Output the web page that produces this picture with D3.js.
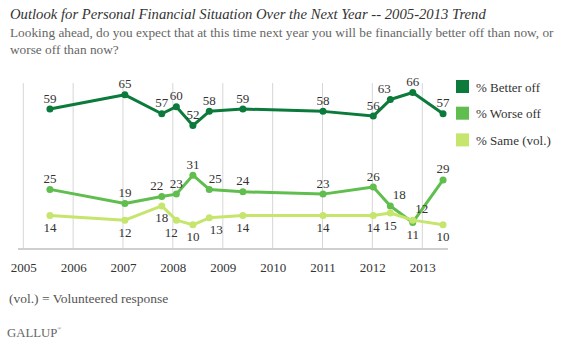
<!DOCTYPE html>
<html>
<head>
<meta charset="utf-8">
<script src="https://cdn.jsdelivr.net/npm/d3@7"></script>
<style>
        body { margin: 0; background: #fff; }
        svg text { font-family: "Liberation Serif", "DejaVu Serif", serif; }
</style>
</head>
<body>
<div id="chart"></div>
<script>
// survey dates (approximate field dates)
var dates = ["2005-07-15", "2007-01-15", "2007-10-12", "2008-01-27", "2008-05-27", "2008-09-24",
        "2009-05-28", "2011-01-05", "2012-01-08", "2012-05-12", "2012-10-23", "2013-06-02"];
var betterOff = [59, 65, 57, 60, 52, 58, 59, 58, 56, 63, 66, 57];
var worseOff = [25, 19, 22, 23, 31, 25, 24, 23, 26, 18, 11, 29];
var sameVol = [14, 12, 18, 12, 10, 13, 14, 14, 14, 15, 12, 10];
var yearTicks = [2005, 2006, 2007, 2008, 2009, 2010, 2011, 2012, 2013];
var seriesNames = ["% Better off", "% Worse off", "% Same (vol.)"];

var width = 564, height = 344;
var colors = ["#0b7a3b", "#5fbe4e", "#c6e56d"];

var parse = d3.timeParse("%Y-%m-%d");
var x = d3.scaleTime()
        .domain([new Date(2005, 0, 1), new Date(2013, 0, 1)])
        .range([23.3, 422.3]);
var y = d3.scaleLinear().domain([0, 70]).range([248.5, 83]);

var svg = d3.select("#chart").append("svg")
        .attr("width", width)
        .attr("height", height);

// title + question
svg.append("text")
        .attr("x", 10).attr("y", 19)
        .attr("font-size", "14.7px")
        .attr("font-style", "italic")
        .attr("fill", "#333")
        .text("Outlook for Personal Financial Situation Over the Next Year -- 2005-2013 Trend");
svg.append("text")
        .attr("x", 10).attr("y", 37)
        .attr("font-size", "13.3px")
        .attr("fill", "#666")
        .text("Looking ahead, do you expect that at this time next year you will be financially better off than now, or");
svg.append("text")
        .attr("x", 10).attr("y", 54)
        .attr("font-size", "13.3px")
        .attr("fill", "#666")
        .text("worse off than now?");

// gridlines
svg.append("g").selectAll("line")
        .data(yearTicks)
        .enter()
        .append("line")
        .attr("x1", function (d) { return x(new Date(d, 0, 1)); })
        .attr("x2", function (d) { return x(new Date(d, 0, 1)); })
        .attr("y1", y(70))
        .attr("y2", y(0))
        .attr("stroke", "#d6d6d6")
        .attr("stroke-width", 1);

// x axis
var xAxis = d3.axisBottom(x)
        .tickValues(yearTicks.map(function (d) { return new Date(d, 0, 1); }))
        .tickFormat(d3.timeFormat("%Y"))
        .tickSize(0)
        .tickPadding(14);
var gx = svg.append("g")
        .attr("transform", "translate(0," + y(0) + ")")
        .call(xAxis);
gx.select(".domain").remove();
gx.selectAll("text")
        .attr("font-family", "Liberation Serif, serif")
        .attr("font-size", "13px")
        .attr("fill", "#333");
svg.append("line")
        .attr("x1", 18).attr("x2", 448)
        .attr("y1", y(0) + 0.5).attr("y2", y(0) + 0.5)
        .attr("stroke", "#cfcfcf")
        .attr("stroke-width", 2);

var allSeries = [betterOff, worseOff, sameVol];

// label nudges [dx, dy] per series/index (default: above for first two, below for third)
var nudges = {
        "0-9": [-6, 0],
        "1-2": [-5, 0], "1-5": [6, 0], "1-9": [9, 0], "1-10": [0, 23],
        "2-3": [-5, 0], "2-5": [7, 0], "2-10": [9, -24]
};

var line = d3.line()
        .x(function (d) { return x(d.date); })
        .y(function (d) { return y(d.v); });

allSeries.forEach(function (vals, s) {
        var pts = vals.map(function (v, i) { return { date: parse(dates[i]), v: v, i: i }; });
        var g = svg.append("g");
        g.append("path")
                .datum(pts)
                .attr("d", line)
                .attr("fill", "none")
                .attr("stroke", colors[s])
                .attr("stroke-width", 3)
                .attr("stroke-linejoin", "round");
        g.selectAll("circle")
                .data(pts)
                .enter()
                .append("circle")
                .attr("cx", function (d) { return x(d.date); })
                .attr("cy", function (d) { return y(d.v); })
                .attr("r", 3.5)
                .attr("fill", colors[s]);
        g.selectAll("text")
                .data(pts)
                .enter()
                .append("text")
                .attr("x", function (d) {
                        var n = nudges[s + "-" + d.i];
                        return x(d.date) + (n ? n[0] : 0);
                })
                .attr("y", function (d) {
                        var n = nudges[s + "-" + d.i];
                        var base = s < 2 ? -11 : 12;
                        return y(d.v) + base + (n ? n[1] : 0);
                })
                .attr("dominant-baseline", "central")
                .attr("text-anchor", "middle")
                .attr("font-size", "13px")
                .attr("fill", "#333")
                .text(function (d) { return d.v; });
});

// legend
var legend = svg.append("g").selectAll("g")
        .data(seriesNames)
        .enter()
        .append("g")
        .attr("transform", function (d, i) { return "translate(456," + (80 + i * 26.7) + ")"; });
legend.append("rect")
        .attr("width", 13).attr("height", 13)
        .attr("fill", function (d, i) { return colors[i]; });
legend.append("text")
        .attr("x", 20).attr("y", 7)
        .attr("dominant-baseline", "central")
        .attr("font-size", "13px")
        .attr("fill", "#333")
        .text(function (d) { return d; });

// footnote + logo
svg.append("text")
        .attr("x", 9).attr("y", 303)
        .attr("font-size", "13.5px")
        .attr("fill", "#555")
        .text("(vol.) = Volunteered response");
var logo = svg.append("text")
        .attr("x", 7).attr("y", 337)
        .attr("font-size", "12.8px")
        .attr("fill", "#666")
        .text("GALLUP");
logo.append("tspan")
        .attr("font-size", "5px")
        .attr("dy", -7)
        .text("®");
</script>
</body>
</html>
